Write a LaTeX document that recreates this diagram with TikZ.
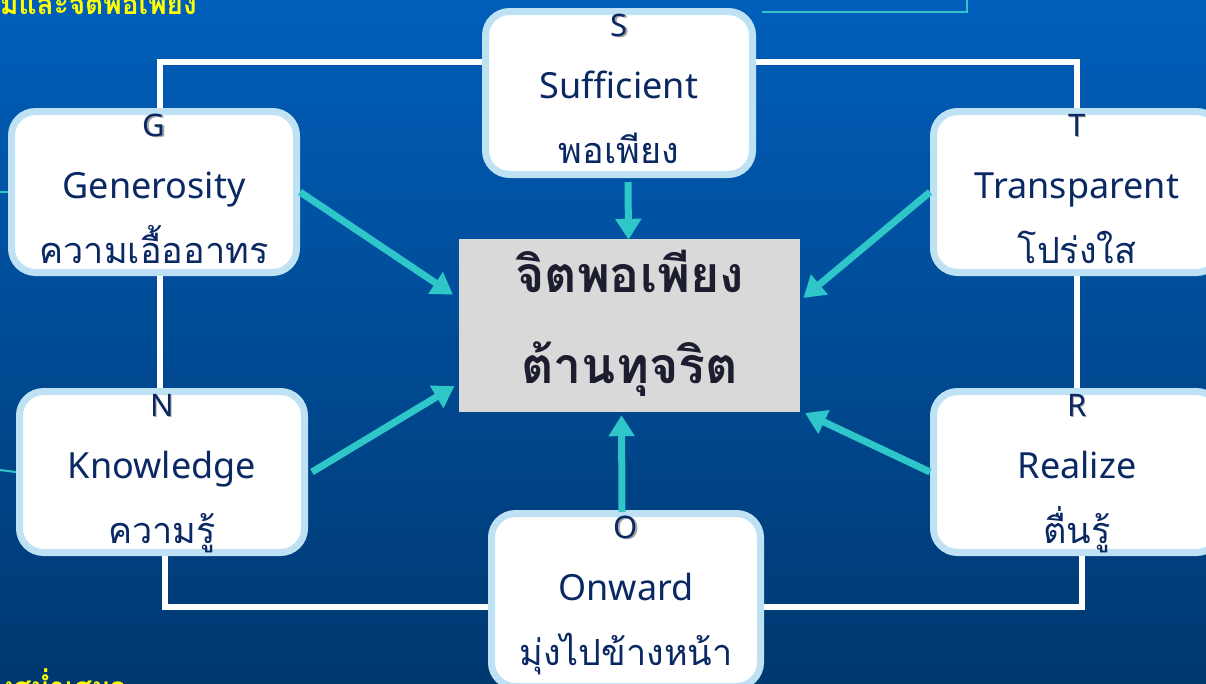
\documentclass[tikz,border=0pt]{standalone}
\usepackage{fontspec}
\setmainfont{Noto Sans}
\newfontfamily\thai[Script=Thai]{Loma}
\usetikzlibrary{arrows.meta}
\definecolor{bgtop}{RGB}{0,94,186}
\definecolor{bgbot}{RGB}{0,56,112}
\definecolor{bord}{RGB}{190,226,244}
\definecolor{navy}{RGB}{10,40,98}
\definecolor{cyanar}{RGB}{46,198,200}
\definecolor{centfill}{RGB}{217,217,217}
\definecolor{centtext}{RGB}{28,30,48}
\definecolor{yel}{RGB}{255,255,0}
\pgfdeclarelayer{back}
\pgfdeclarelayer{lines}
\pgfsetlayers{back,lines,main}
\newcommand{\cardtext}[4]{%
  \node[letter, text=black!35, anchor=base] at ([xshift=1.5pt,yshift=-29.5pt]#1.north) {#2};
  \node[letter, anchor=base] (#1-l) at ([yshift=-28pt]#1.north) {#2};
  \node[eng, anchor=base] (#1-e) at ([yshift=-90pt]#1.north) {#3};
  \node[th, anchor=base] (#1-t) at ([yshift=-155pt]#1.north) {#4};}
\begin{document}
\begin{tikzpicture}[x=1pt,y=-1pt,
  card/.style={draw=bord, line width=7pt, fill=white, rounded corners=24pt, inner sep=0pt},
  letter/.style={text=navy, inner sep=0pt, font=\fontsize{31}{31}\selectfont},
  eng/.style={text=navy, inner sep=0pt, font=\fontsize{36}{36}\selectfont},
  th/.style={text=navy, inner sep=0pt, font=\thai\fontsize{36}{36}\selectfont},
  link/.style={draw=white, line width=6pt},
  arr/.style={draw=cyanar, line width=7pt, -{Triangle[width=25pt,length=21pt]}},
  thinline/.style={draw=cyanar, line width=2pt},
  yeltext/.style={text=yel, inner sep=0pt, font=\thai\bfseries\fontsize{28}{28}\selectfont}]
\useasboundingbox (0,0) rectangle (1206,683);
\begin{pgfonlayer}{back}
  \shade[top color=bgtop, bottom color=bgbot] (0,0) rectangle (1206,683);
\end{pgfonlayer}

% cards
\node[card, minimum width=267pt, minimum height=163pt] (S) at (619,93) {};
\node[card, minimum width=285pt, minimum height=161pt] (G) at (154,192) {};
\node[card, minimum width=287pt, minimum height=161pt] (T) at (1077,192) {};
\node[card, minimum width=285pt, minimum height=161pt] (N) at (162,472) {};
\node[card, minimum width=287pt, minimum height=161pt] (R) at (1077,472) {};
\node[card, minimum width=269pt, minimum height=173pt] (O) at (626,600) {};
\node[fill=centfill, minimum width=341pt, minimum height=173pt, inner sep=0pt] (C) at (629.5,325.5) {};

\cardtext{S}{S}{Sufficient}{พอเพียง}
\cardtext{G}{G}{Generosity}{ความเอื้ออาทร}
\cardtext{T}{T}{Transparent}{โปร่งใส}
\cardtext{N}{N}{Knowledge}{ความรู้}
\cardtext{R}{R}{Realize}{ตื่นรู้}
\cardtext{O}{O}{Onward}{มุ่งไปข้างหน้า}

\node[text=centtext, font=\thai\bfseries\fontsize{50}{50}\selectfont, inner sep=0pt, anchor=base] (C1) at ([yshift=-292pt+325.5pt]C.center) {จิตพอเพียง};
\node[text=centtext, font=\thai\bfseries\fontsize{50}{50}\selectfont, inner sep=0pt, anchor=base] (C2) at ([yshift=-383pt+325.5pt]C.center) {ต้านทุจริต};

% white frame links
\begin{pgfonlayer}{lines}
  \draw[link] ([xshift=6pt]G.north) |- ([yshift=31pt]S.west);
  \draw[link] (S.east |- 0,62) -| (T.north);
  \draw[link] ([xshift=6pt]G.south) -- ([xshift=-2pt]N.north);
  \draw[link] (T.south) -- (R.north);
  \draw[link] ([xshift=3pt]N.south) |- (O.west |- 0,607);
  \draw[link] (O.east |- 0,607) -| ([xshift=5pt]R.south);
\end{pgfonlayer}

% arrows
\draw[arr, shorten >=7pt] (G.east) -- ([yshift=27pt]C.west);
\draw[arr] ([xshift=9pt,yshift=-4pt]S.south) -- ([xshift=-1pt,yshift=-1pt]C.north);
\draw[arr, shorten >=4pt] (T.west) -- ([yshift=25pt]C.east);
\draw[arr, shorten >=5pt] ([xshift=4pt]N.east) -- ([yshift=-58pt]C.west);
\draw[arr] ([xshift=-4pt,yshift=-2pt]O.north) -- ([xshift=-8pt,yshift=-3pt]C.south);
\draw[arr, shorten >=2pt] (R.west) -- ([xshift=3pt]C.south east);

% partial cyan lines at the edges
\coordinate (e1) at (0,192);
\coordinate (e2) at (0,470);
\coordinate (e3) at (967,0);
\begin{pgfonlayer}{lines}
  \draw[thinline] (e1) -- (G.west);
  \draw[thinline] (e2) -- (N.west);
  \draw[thinline] (e3) |- (762,12);
\end{pgfonlayer}

% yellow partial texts
\node[yeltext, anchor=base west] (y1) at (0,14) {มและจิตพอเพียง};
\node[yeltext, anchor=base west] (y2) at (0,697) {งสม่ำเสมอ};
\end{tikzpicture}
\end{document}
